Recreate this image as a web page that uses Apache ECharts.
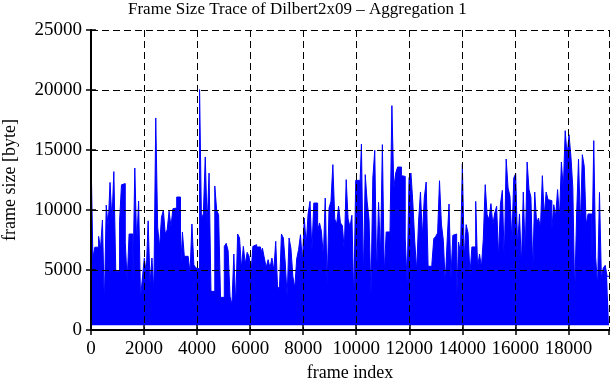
<!DOCTYPE html>
<html>
<head>
<meta charset="utf-8">
<script src="https://cdn.jsdelivr.net/npm/echarts@6/dist/echarts.min.js"></script>
<style>
  html, body { margin: 0; padding: 0; background: #fff; }
  #chart { width: 611px; height: 380px; }
</style>
</head>
<body>
<div id="chart"></div>
<script>
// frame size trace, top of the trace read about every 2 px of the picture (bytes)
var frameSizes = [
  14600, 6000, 6900, 6900, 7800, 6800, 9170, 2100, 10400, 8640, 12300, 9140, 13200, 4900, 4900,
  9060, 12100, 12200, 7300, 4100, 8000, 8000, 3750, 13500, 7140, 10750, 2670, 4330, 6000, 4750,
  9100, 3900, 6000, 3200, 17670, 8580, 6900, 9400, 9970, 8000, 8360, 9900, 8600, 10100,
  10170, 11080, 11080, 4890, 8170, 6140, 6140, 6060, 4750, 8830, 5440, 5170, 5100, 20030, 9200,
  9700, 14420, 8780, 13080, 3220, 3220, 12000, 9970, 9610, 2720, 2720, 6970, 7220, 6610, 2800,
  2110, 6330, 2110, 8000, 7670, 5170, 6970, 5500, 6470, 6140, 4670, 6970, 7110, 6920, 6920,
  6330, 6830, 6000, 5220, 5860, 5170, 6000, 4970, 7390, 3420, 3640, 8000, 7670, 5580, 2800,
  7670, 6780, 4470, 3500, 5920, 6700, 7940, 5670, 9330, 7110, 9670, 10720, 6610, 10580, 10580,
  8280, 8920, 8220, 6060, 11000, 3780, 10170, 10720, 13780, 9250, 8830, 10310, 8920, 8700, 6610,
  12530, 9250, 8580, 9560, 2390, 12470, 12470, 11000, 15500, 4280, 12950, 10720, 9200, 2940, 12670,
  14970, 4470, 10640, 6200, 15450, 4690, 8170, 8170, 8170, 18700, 11830, 13080, 13580, 13580, 12860,
  12800, 7670, 3920, 12670, 13080, 10580, 7390, 4940, 9060, 11500, 7750, 11000, 12330, 5310, 5310, 5500,
  7610, 7800, 8080, 12440, 8830, 7470, 3920, 7390, 10500, 4330, 7890, 8000, 2390, 7330, 6330,
  13830, 6000, 8780, 8080, 4610, 6920, 6920, 10720, 5170, 6330, 5220, 7580, 12110, 9610, 9200,
  10530, 8780, 9750, 10310, 6060, 10500, 11640, 5720, 14250, 11830, 11140, 7390, 12670, 13030, 6970, 9670,
  5390, 11500, 6330, 14000, 11700, 11080, 4940, 11500, 8920, 9330, 8500, 12860, 9470, 11500, 10860,
  10780, 8360, 10440, 9470, 11700, 9330, 14000, 11700, 16610, 14500, 16280, 14470, 11830, 2940, 9670,
  14250, 8780, 14610, 13640, 8780, 9670, 9670, 5720, 15780, 6060, 3640, 11470, 4330, 5170, 5390, 4470
];
var lastFrame = 19530;     // number of frames in the trace
var minFrameSize = 400;    // smallest frames sit just above zero
var xTicks = [0, 2000, 4000, 6000, 8000, 10000, 12000, 14000, 16000, 18000];
var yTicks = [0, 5000, 10000, 15000, 20000, 25000];

var frameStep = lastFrame / frameSizes.length;
var traceData = frameSizes.map(function (v, i) { return [i * frameStep, v]; });
traceData.push([lastFrame, frameSizes[frameSizes.length - 1]]);

var font = 'Liberation Serif';
var black = '#000';
var plain = function (v) { return String(v); };

var myChart = echarts.init(document.getElementById('chart'));

var option = {
  animation: false,
  backgroundColor: '#fff',
  title: {
    text: 'Frame Size Trace of Dilbert2x09 \u2013 Aggregation 1',
    left: 128,
    top: 1,
    padding: 0,
    textStyle: { fontFamily: font, fontSize: 17, fontWeight: 'normal', color: black }
  },
  grid: { left: 91, right: 2, top: 30, bottom: 50, containLabel: false, outerBoundsMode: 'none' },
  xAxis: [{
    type: 'value',
    position: 'bottom',
    min: xTicks[0],
    max: lastFrame,
    interval: 2000,
    z: 10,
    name: 'frame index',
    nameLocation: 'middle',
    nameGap: 30,
    nameTextStyle: { fontFamily: font, fontSize: 18, color: black },
    axisLine: { lineStyle: { color: black, width: 2 } },
    axisTick: { inside: true, length: 5, lineStyle: { color: black, width: 1.5 } },
    axisLabel: { fontFamily: font, fontSize: 19, color: black, margin: 10, showMaxLabel: false, formatter: plain },
    splitLine: { show: true, lineStyle: { color: black, width: 1, type: [7, 4] } }
  }, {
    type: 'value',
    position: 'top',
    min: xTicks[0],
    max: lastFrame,
    interval: 2000,
    z: 10,
    axisLine: { lineStyle: { color: black, width: 2 } },
    axisTick: { inside: true, length: 5, lineStyle: { color: black, width: 1.5 } },
    axisLabel: { show: false },
    splitLine: { show: false }
  }],
  yAxis: [{
    type: 'value',
    position: 'left',
    min: yTicks[0],
    max: yTicks[yTicks.length - 1],
    interval: 5000,
    z: 10,
    name: 'frame size [byte]',
    nameLocation: 'middle',
    nameGap: 72,
    nameTextStyle: { fontFamily: font, fontSize: 18, color: black },
    axisLine: { show: true, lineStyle: { color: black, width: 2 } },
    axisTick: { show: true, inside: true, length: 5, lineStyle: { color: black, width: 1.5 } },
    axisLabel: { fontFamily: font, fontSize: 19, color: black, margin: 9, formatter: plain },
    splitLine: { show: true, lineStyle: { color: black, width: 1, type: [7, 4] } }
  }, {
    type: 'value',
    position: 'right',
    min: yTicks[0],
    max: yTicks[yTicks.length - 1],
    interval: 5000,
    z: 10,
    axisLine: { show: true, lineStyle: { color: black, width: 2 } },
    axisTick: { show: true, inside: true, length: 5, lineStyle: { color: black, width: 1.5 } },
    axisLabel: { show: false },
    splitLine: { show: false }
  }],
  series: [{
    name: 'frame size',
    type: 'line',
    step: 'end',
    data: traceData,
    showSymbol: false,
    sampling: null,
    lineStyle: { color: '#0000ff', width: 1 },
    areaStyle: { color: '#0000ff', opacity: 1, origin: minFrameSize },
    z: 2
  }]
};

myChart.setOption(option);
</script>
</body>
</html>
